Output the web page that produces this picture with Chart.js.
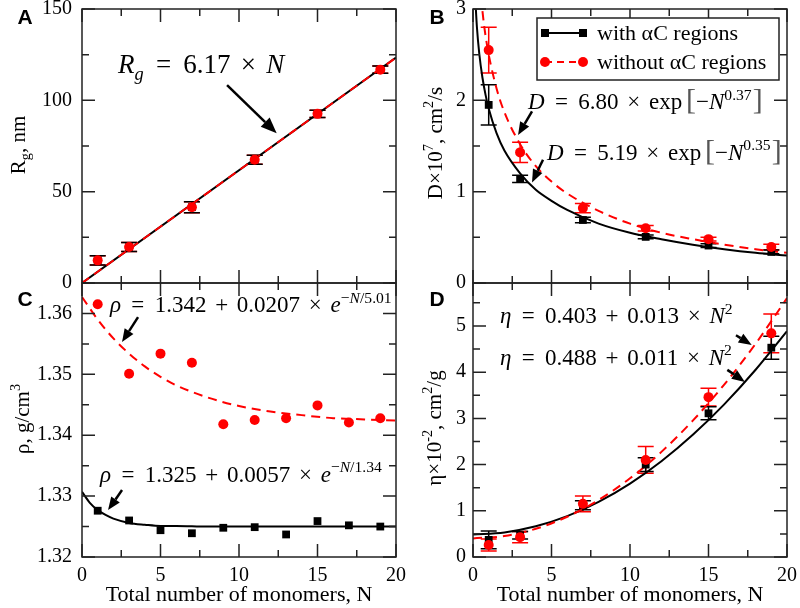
<!DOCTYPE html>
<html>
<head>
<meta charset="utf-8">
<script src="https://cdn.jsdelivr.net/npm/chart.js@4.4.1/dist/chart.umd.min.js"></script>
<style>
  html, body { margin: 0; padding: 0; background: #fff; }
  #fig { position: relative; width: 800px; height: 608px; }
  #fig canvas { position: absolute; left: 0; top: 0; }
</style>
</head>
<body>
<div id="fig">
  <canvas id="panelA" width="800" height="608"></canvas>
  <canvas id="panelB" width="800" height="608"></canvas>
  <canvas id="panelC" width="800" height="608"></canvas>
  <canvas id="panelD" width="800" height="608"></canvas>
</div>
<script>
// ---- values ----
const monomers = [1, 3, 7, 11, 15, 19];
const monomersRho = [1, 3, 5, 7, 9, 11, 13, 15, 17, 19];
const seriesNames = ['with αC regions', 'without αC regions'];

// A: radius of gyration (nm)
const rgWith = [12.4, 19.7, 41.5, 67.5, 92.6, 116.8];
const rgWithErr = [2.5, 2.5, 3.0, 2.5, 2.0, 2.0];
const rgWithout = [12.4, 19.7, 41.5, 67.5, 92.6, 116.8];
const rgWithoutErr = [2.5, 2.5, 3.0, 2.5, 2.0, 2.0];
const rgFitN = [0, 20];
const rgFit = [0, 123.4];

// B: diffusion coefficient x10^7 (cm^2/s)
const dWith = [1.95, 1.14, 0.69, 0.505, 0.41, 0.34];
const dWithErr = [0.22, 0.04, 0.03, 0.02, 0.02, 0.02];
const dWithout = [2.55, 1.43, 0.82, 0.60, 0.48, 0.395];
const dWithoutErr = [0.25, 0.11, 0.05, 0.03, 0.02, 0.03];
const dFitWithN = [0.15, 0.25, 0.4, 0.6, 0.8, 1, 1.5, 2, 3, 4, 5, 6, 8, 10, 12, 14, 16, 18, 20];
const dFitWith = [3.10, 2.80, 2.51, 2.25, 2.06, 1.91, 1.64, 1.45, 1.20, 1.02, 0.90, 0.80, 0.65, 0.55, 0.48, 0.42, 0.37, 0.33, 0.30];
const dFitWithoutN = [0.5, 0.7, 0.85, 1, 1.5, 2, 3, 4, 5, 6, 8, 10, 12, 14, 16, 18, 20];
const dFitWithout = [3.14, 2.83, 2.65, 2.50, 2.13, 1.87, 1.52, 1.28, 1.11, 0.98, 0.79, 0.65, 0.55, 0.48, 0.42, 0.37, 0.33];

// C: density (g/cm^3)
const rhoWith = [1.3276, 1.3260, 1.3244, 1.3239, 1.3248, 1.3249, 1.3237, 1.3259, 1.3252, 1.3250];
const rhoWithout = [1.3615, 1.3501, 1.3534, 1.3519, 1.3418, 1.3425, 1.3428, 1.3449, 1.3421, 1.3428];
const rhoFitWithN = [0, 0.5, 1, 1.5, 2, 3, 4, 5, 6, 8, 20];
const rhoFitWith = [1.3307, 1.3289, 1.3277, 1.3269, 1.3263, 1.3256, 1.3253, 1.3251, 1.3251, 1.3250, 1.3250];
const rhoFitWithoutN = [0, 1, 2, 3, 4, 5, 6, 8, 10, 12, 14, 16, 18, 20];
const rhoFitWithout = [1.3627, 1.3590, 1.3559, 1.3534, 1.3513, 1.3496, 1.3482, 1.3462, 1.3448, 1.3439, 1.3433, 1.3428, 1.3426, 1.3424];

// D: intrinsic viscosity x10^-2 (cm^2/g)
const etaWith = [0.37, 0.47, 1.12, 2.00, 3.11, 4.53];
const etaWithErr = [0.19, 0.08, 0.10, 0.15, 0.14, 0.25];
const etaWithout = [0.26, 0.43, 1.15, 2.10, 3.46, 4.84];
const etaWithoutErr = [0.13, 0.12, 0.17, 0.29, 0.19, 0.42];
const etaFitN = [0, 2, 4, 6, 8, 10, 12, 14, 16, 18, 20];
const etaFitWith = [0.488, 0.532, 0.664, 0.884, 1.192, 1.588, 2.072, 2.644, 3.304, 4.052, 4.888];
const etaFitWithout = [0.403, 0.455, 0.611, 0.871, 1.235, 1.703, 2.275, 2.951, 3.731, 4.615, 5.603];

// ---- styling ----
const SERIF = '"Liberation Serif", "Times New Roman", serif';
const BLACK = '#000000';
const RED = '#ff0000';
const FRAME = '#222222';

const pts = (xs, ys) => xs.map((x, i) => ({ x, y: ys[i] }));

function fitLine(xs, ys, color, dashed, order) {
  return {
    data: pts(xs, ys), showLine: true, borderColor: color, borderWidth: 2,
    borderDash: dashed ? [9, 6] : [], pointRadius: 0, pointHoverRadius: 0,
    cubicInterpolationMode: 'monotone', fill: false, order
  };
}

function markers(label, xs, ys, err, color, square, order) {
  return {
    label, data: pts(xs, ys), err, showLine: false, order,
    pointStyle: square ? 'rect' : 'circle', pointRadius: square ? 5.5 : 5,
    backgroundColor: color, borderColor: color, borderWidth: 0
  };
}

// rich text: parts = [{t, i (italic), s ('sup'|'sub'), g (gap em), k (scale), c (colour)}]
function drawRich(ctx, parts, x, y, size, align) {
  let w = 0;
  const items = [];
  parts.forEach(p => {
    const sz = p.s ? size * 0.68 : size * (p.k || 1);
    const font = (p.i ? 'italic ' : '') + sz + 'px ' + SERIF;
    ctx.font = font;
    w += (p.g || 0) * size;
    const tw = ctx.measureText(p.t).width;
    const dy = p.s === 'sup' ? -0.42 * size : p.s === 'sub' ? 0.24 * size : 0;
    items.push({ p, font, x: w, dy });
    w += tw;
  });
  const x0 = align === 'center' ? x - w / 2 : x;
  ctx.textAlign = 'left';
  ctx.textBaseline = 'alphabetic';
  items.forEach(it => {
    ctx.font = it.font;
    ctx.fillStyle = it.p.c || '#000';
    ctx.fillText(it.p.t, x0 + it.x, y + it.dy);
  });
}

function arrow(ctx, x1, y1, x2, y2, head) {
  const a = Math.atan2(y2 - y1, x2 - x1);
  const L = head, W = head * 0.4;
  ctx.save();
  ctx.strokeStyle = '#000';
  ctx.fillStyle = '#000';
  ctx.lineWidth = 2.5;
  ctx.beginPath();
  ctx.moveTo(x1, y1);
  ctx.lineTo(x2 - L * Math.cos(a), y2 - L * Math.sin(a));
  ctx.stroke();
  ctx.beginPath();
  ctx.moveTo(x2, y2);
  ctx.lineTo(x2 - L * Math.cos(a) + W * Math.sin(a), y2 - L * Math.sin(a) - W * Math.cos(a));
  ctx.lineTo(x2 - L * Math.cos(a) - W * Math.sin(a), y2 - L * Math.sin(a) + W * Math.cos(a));
  ctx.closePath();
  ctx.fill();
  ctx.restore();
}

const eq = (t) => ({ t, g: 0.45 });
const op = (t) => ({ t, g: 0.38 });

// per panel decorations (positions in page pixels or data units)
const panels = {
  panelA: {
    label: 'A', labelAt: [25, 18], xStep: 5, yStep: 50,
    yTitle: [{ t: 'R' }, { t: 'g', s: 'sub' }, { t: ', nm' }], yTitleAt: [25, 145],
    notes: [{ at: [2.3, 114.8], size: 27,
      parts: [{ t: 'R', i: 1 }, { t: 'g', i: 1, s: 'sub' }, eq('='), eq('6.17'), op('×'), { t: 'N', i: 1, g: 0.38 }] }],
    arrows: [[9.24, 108.3, 12.4, 82.0, 16]]
  },
  panelB: {
    label: 'B', labelAt: [437, 18], xStep: 5, yStep: 1,
    yTitle: [{ t: 'D×10' }, { t: '7', s: 'sup' }, { t: ', cm' }, { t: '2', s: 'sup' }, { t: '/s' }], yTitleAt: [442, 143],
    legend: true,
    notes: [
      { at: [3.5, 1.90], size: 23,
        parts: [{ t: 'D', i: 1 }, eq('='), eq('6.80'), op('×'), op('exp'), { t: '[', g: 0.17, k: 1.3, c: '#555' }, { t: '−' }, { t: 'N', i: 1 }, { t: '0.37', s: 'sup' }, { t: ']', g: 0.05, k: 1.3, c: '#555' }] },
      { at: [4.71, 1.35], size: 23,
        parts: [{ t: 'D', i: 1 }, eq('='), eq('5.19'), op('×'), op('exp'), { t: '[', g: 0.17, k: 1.3, c: '#555' }, { t: '−' }, { t: 'N', i: 1 }, { t: '0.35', s: 'sup' }, { t: ']', g: 0.05, k: 1.3, c: '#555' }] }
    ],
    arrows: [[3.76, 1.88, 2.87, 1.62, 13], [4.46, 1.35, 3.76, 1.10, 13]]
  },
  panelC: {
    label: 'C', labelAt: [25, 300], xStep: 5, yStep: 0.01,
    yTitle: [{ t: 'ρ, g/cm' }, { t: '3', s: 'sup' }], yTitleAt: [29, 419],
    xTitle: 'Total number of monomers, N',
    notes: [
      { at: [1.78, 1.3602], size: 23,
        parts: [{ t: 'ρ', i: 1 }, eq('='), eq('1.342'), op('+'), op('0.0207'), op('×'), { t: 'e', i: 1, g: 0.38 }, { t: '−', s: 'sup' }, { t: 'N', i: 1, s: 'sup' }, { t: '/5.01', s: 'sup' }] },
      { at: [1.15, 1.3323], size: 23,
        parts: [{ t: 'ρ', i: 1 }, eq('='), eq('1.325'), op('+'), op('0.0057'), op('×'), { t: 'e', i: 1, g: 0.38 }, { t: '−', s: 'sup' }, { t: 'N', i: 1, s: 'sup' }, { t: '/1.34', s: 'sup' }] }
    ],
    arrows: [[3.57, 1.3594, 2.55, 1.3553, 13], [2.55, 1.3310, 1.66, 1.3277, 13]]
  },
  panelD: {
    label: 'D', labelAt: [437, 300], xStep: 5, yStep: 1,
    yTitle: [{ t: 'η×10' }, { t: '-2', s: 'sup' }, { t: ', cm' }, { t: '2', s: 'sup' }, { t: '/g' }], yTitleAt: [441, 428],
    xTitle: 'Total number of monomers, N',
    notes: [
      { at: [1.72, 5.06], size: 23,
        parts: [{ t: 'η', i: 1 }, eq('='), eq('0.403'), op('+'), op('0.013'), op('×'), { t: 'N', i: 1, g: 0.38 }, { t: '2', s: 'sup' }] },
      { at: [1.72, 4.16], size: 23,
        parts: [{ t: 'η', i: 1 }, eq('='), eq('0.488'), op('+'), op('0.011'), op('×'), { t: 'N', i: 1, g: 0.38 }, { t: '2', s: 'sup' }] }
    ],
    arrows: [[16.75, 4.80, 17.75, 4.59, 13], [16.2, 4.05, 17.32, 3.79, 13]]
  }
};

const decor = {
  id: 'decor',
  beforeDatasetsDraw(chart) {
    const ctx = chart.ctx, xs = chart.scales.x, ys = chart.scales.y;
    ctx.save();
    ctx.lineWidth = 1.5;
    chart.data.datasets.forEach(ds => {
      if (!ds.err) return;
      ctx.strokeStyle = ds.borderColor;
      ds.data.forEach((p, i) => {
        const px = xs.getPixelForValue(p.x);
        const y1 = ys.getPixelForValue(p.y - ds.err[i]);
        const y2 = ys.getPixelForValue(p.y + ds.err[i]);
        ctx.beginPath();
        ctx.moveTo(px, y1); ctx.lineTo(px, y2);
        ctx.moveTo(px - 8, y1); ctx.lineTo(px + 8, y1);
        ctx.moveTo(px - 8, y2); ctx.lineTo(px + 8, y2);
        ctx.stroke();
      });
    });
    ctx.restore();
  },
  afterDraw(chart) {
    const cfg = panels[chart.canvas.id];
    const ctx = chart.ctx, a = chart.chartArea, xs = chart.scales.x, ys = chart.scales.y;
    ctx.save();
    // frame
    ctx.strokeStyle = FRAME;
    ctx.lineWidth = 1.5;
    ctx.strokeRect(a.left, a.top, a.right - a.left, a.bottom - a.top);
    // inward major/minor ticks on all four sides
    const tickSet = (scale, step, fn) => {
      const half = step / 2;
      const k0 = Math.ceil(scale.min / half - 1e-6), k1 = Math.floor(scale.max / half + 1e-6);
      for (let k = k0; k <= k1; k++) fn(scale.getPixelForValue(k * half), k % 2 === 0 ? 13 : 7);
    };
    ctx.beginPath();
    tickSet(xs, cfg.xStep, (p, L) => {
      ctx.moveTo(p, a.bottom); ctx.lineTo(p, a.bottom - L);
      ctx.moveTo(p, a.top); ctx.lineTo(p, a.top + L);
    });
    tickSet(ys, cfg.yStep, (p, L) => {
      ctx.moveTo(a.left, p); ctx.lineTo(a.left + L, p);
      ctx.moveTo(a.right, p); ctx.lineTo(a.right - L, p);
    });
    ctx.stroke();

    // panel letter
    ctx.font = 'bold 21px "Liberation Sans", Arial, sans-serif';
    ctx.fillStyle = '#000';
    ctx.textAlign = 'center';
    ctx.textBaseline = 'middle';
    ctx.fillText(cfg.label, cfg.labelAt[0], cfg.labelAt[1]);

    // y title (rotated)
    ctx.save();
    ctx.translate(cfg.yTitleAt[0], cfg.yTitleAt[1]);
    ctx.rotate(-Math.PI / 2);
    drawRich(ctx, cfg.yTitle, 0, 0, 21, 'center');
    ctx.restore();

    // x title
    if (cfg.xTitle) {
      ctx.font = '22px ' + SERIF;
      ctx.fillStyle = '#000';
      ctx.textAlign = 'center';
      ctx.textBaseline = 'alphabetic';
      ctx.fillText(cfg.xTitle, (a.left + a.right) / 2, 601);
    }

    // equations and arrows
    cfg.notes.forEach(n => {
      drawRich(ctx, n.parts, xs.getPixelForValue(n.at[0]), ys.getPixelForValue(n.at[1]), n.size, 'left');
    });
    cfg.arrows.forEach(r => {
      arrow(ctx, xs.getPixelForValue(r[0]), ys.getPixelForValue(r[1]),
        xs.getPixelForValue(r[2]), ys.getPixelForValue(r[3]), r[4]);
    });

    // legend box
    if (cfg.legend) {
      const lx = a.left + 64, ly = a.top + 9, lw = 242, lh = 62;
      ctx.fillStyle = '#fff';
      ctx.fillRect(lx, ly, lw, lh);
      ctx.strokeStyle = FRAME;
      ctx.lineWidth = 1.5;
      ctx.strokeRect(lx, ly, lw, lh);
      const rows = [
        { y: ly + 15, color: BLACK, dash: [], square: true },
        { y: ly + 44, color: RED, dash: [7, 5], square: false }
      ];
      rows.forEach((r, i) => {
        ctx.strokeStyle = r.color;
        ctx.fillStyle = r.color;
        ctx.lineWidth = 2;
        ctx.setLineDash(r.dash);
        ctx.beginPath();
        ctx.moveTo(lx + 8, r.y); ctx.lineTo(lx + 46, r.y);
        ctx.stroke();
        ctx.setLineDash([]);
        [lx + 8, lx + 46].forEach(mx => {
          ctx.beginPath();
          if (r.square) ctx.rect(mx - 4, r.y - 4, 8, 8);
          else ctx.arc(mx, r.y, 5, 0, Math.PI * 2);
          ctx.fill();
        });
        ctx.font = '22px ' + SERIF;
        ctx.fillStyle = '#000';
        ctx.textAlign = 'left';
        ctx.textBaseline = 'middle';
        ctx.fillText(seriesNames[i], lx + 60, r.y + 1);
      });
    }
    ctx.restore();
  }
};

function zeroPad(s) { s.paddingTop = 0; s.paddingBottom = 0; s.paddingLeft = 0; s.paddingRight = 0; }

function makePanel(id, o) {
  const step = o.yStep;
  return new Chart(document.getElementById(id), {
    type: 'scatter',
    data: { datasets: o.datasets },
    options: {
      responsive: false,
      animation: false,
      devicePixelRatio: 1,
      layout: { padding: o.padding },
      plugins: { legend: { display: false }, tooltip: { enabled: false } },
      scales: {
        x: {
          type: 'linear', min: 0, max: 20,
          ticks: { stepSize: 5, display: o.xLabels, color: '#000', padding: 7, maxRotation: 0, autoSkip: false,
            font: { family: SERIF, size: 20 } },
          grid: { display: false, drawTicks: false },
          border: { display: false },
          afterFit: s => { s.height = o.xLabels ? 30 : 0; zeroPad(s); }
        },
        y: {
          type: 'linear', min: o.yMin, max: o.yMax,
          ticks: { stepSize: step, color: '#000', padding: o.yPad, autoSkip: false,
            font: { family: SERIF, size: 20 } },
          grid: { display: false, drawTicks: false },
          border: { display: false },
          afterBuildTicks: s => {
            s.ticks = s.ticks.filter(t => Math.abs(t.value / step - Math.round(t.value / step)) < 1e-6);
          },
          afterFit: s => { s.width = 60; zeroPad(s); }
        }
      }
    },
    plugins: [decor]
  });
}

makePanel('panelA', {
  padding: { left: 22, right: 404, top: 9, bottom: 325 }, xLabels: false,
  yMin: 0, yMax: 150, yStep: 50, yPad: 10,
  datasets: [
    markers(seriesNames[1], monomers, rgWithout, rgWithoutErr, RED, false, 0),
    markers(seriesNames[0], monomers, rgWith, rgWithErr, BLACK, true, 1),
    fitLine(rgFitN, rgFit, RED, true, 2),
    fitLine(rgFitN, rgFit, BLACK, false, 3)
  ]
});

makePanel('panelB', {
  padding: { left: 413, right: 13, top: 9, bottom: 325 }, xLabels: false,
  yMin: 0, yMax: 3, yStep: 1, yPad: 7,
  datasets: [
    markers(seriesNames[1], monomers, dWithout, dWithoutErr, RED, false, 0),
    markers(seriesNames[0], monomers, dWith, dWithErr, BLACK, true, 1),
    fitLine(dFitWithoutN, dFitWithout, RED, true, 2),
    fitLine(dFitWithN, dFitWith, BLACK, false, 3)
  ]
});

makePanel('panelC', {
  padding: { left: 22, right: 404, top: 283, bottom: 21 }, xLabels: true,
  yMin: 1.32, yMax: 1.365, yStep: 0.01, yPad: 10,
  datasets: [
    markers(seriesNames[1], monomersRho, rhoWithout, null, RED, false, 0),
    markers(seriesNames[0], monomersRho, rhoWith, null, BLACK, true, 1),
    fitLine(rhoFitWithoutN, rhoFitWithout, RED, true, 2),
    fitLine(rhoFitWithN, rhoFitWith, BLACK, false, 3)
  ]
});

makePanel('panelD', {
  padding: { left: 413, right: 13, top: 283, bottom: 21 }, xLabels: true,
  yMin: 0, yMax: 5.93, yStep: 1, yPad: 7,
  datasets: [
    markers(seriesNames[1], monomers, etaWithout, etaWithoutErr, RED, false, 0),
    markers(seriesNames[0], monomers, etaWith, etaWithErr, BLACK, true, 1),
    fitLine(etaFitN, etaFitWithout, RED, true, 2),
    fitLine(etaFitN, etaFitWith, BLACK, false, 3)
  ]
});
</script>
</body>
</html>
